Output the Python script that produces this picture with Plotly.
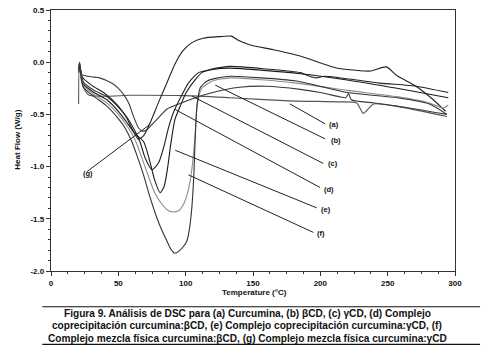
import plotly.graph_objects as go

# ---------------- data ----------------
a_T = [20.5, 21.0, 23, 28, 60, 100, 133, 177, 215, 227, 232, 239.5, 260, 294]
a_y = [-0.40, -0.03, -0.20, -0.315, -0.317, -0.32, -0.34, -0.37, -0.38, -0.39, -0.49, -0.40, -0.43, -0.52]

b_T = [20.5, 21.2, 23, 30, 40, 50, 56, 61, 65, 69, 74, 80, 86, 92, 98, 105, 113, 125, 134, 139, 148, 165,
       185, 212, 225, 237, 249, 257, 271, 283, 293]
b_y = [-0.06, -0.01, -0.14, -0.22, -0.30, -0.42, -0.53, -0.66, -0.74, -0.70, -0.57, -0.38, -0.20, -0.02, 0.11,
       0.19, 0.23, 0.245, 0.25, 0.21, 0.165, 0.12, 0.06, -0.055, -0.075, -0.085, -0.045, -0.13, -0.23, -0.35, -0.47]

c_T = [20.5, 21.2, 24, 32, 41.5, 50, 56, 62, 66, 70, 75, 80, 84, 87, 91, 95, 102, 109.5, 118, 133, 160, 185,
       193, 197, 203, 244, 271, 295]
c_y = [-0.07, -0.02, -0.19, -0.27, -0.33, -0.43, -0.52, -0.65, -0.76, -0.92, -1.03, -0.96, -0.80, -0.64, -0.48,
       -0.37, -0.20, -0.10, -0.07, -0.04, -0.065, -0.10, -0.14, -0.15, -0.135, -0.20, -0.23, -0.29]

d_T = [20.5, 21.2, 24, 32, 41.5, 50, 56, 62, 68.7, 73, 77, 81, 84, 86.5, 89, 92, 96, 100, 107, 112, 120, 133,
       185, 220, 257, 295]
d_y = [-0.08, -0.03, -0.21, -0.29, -0.36, -0.47, -0.57, -0.68, -0.76, -0.93, -1.13, -1.25, -1.19, -1.02, -0.78,
       -0.55, -0.42, -0.30, -0.17, -0.10, -0.07, -0.057, -0.11, -0.17, -0.25, -0.34]

e_T = [20.5, 21.2, 24, 32, 41.5, 50, 57, 63, 67, 72, 77, 83, 87, 91, 95, 98.4, 101, 103.3, 105, 107,
       108.5, 112, 120, 133, 182, 220, 257, 281, 291, 295]
e_y = [-0.09, -0.03, -0.22, -0.31, -0.39, -0.50, -0.62, -0.76, -0.90, -1.08, -1.25, -1.37, -1.42, -1.435, -1.42,
       -1.36, -1.27, -1.14, -0.98, -0.70, -0.42, -0.25, -0.18, -0.15, -0.20, -0.27, -0.33, -0.39, -0.44, -0.41]

f_T = [20.5, 21.2, 24, 32, 41.5, 50, 55, 60, 64, 68.7, 73, 78.6, 82, 86, 89, 92, 95, 98, 101, 103, 104.6, 106,
       107, 108.5, 111, 116, 122, 133, 182, 220, 257, 281, 294]
f_y = [-0.10, -0.04, -0.24, -0.33, -0.42, -0.54, -0.63, -0.76, -0.90, -1.08, -1.27, -1.49, -1.60, -1.71, -1.79,
       -1.83, -1.81, -1.77, -1.71, -1.58, -1.39, -1.10, -0.76, -0.40, -0.24, -0.18, -0.155, -0.135, -0.18, -0.29,
       -0.34, -0.40, -0.50]

g_T = [20.5, 21.2, 23, 30, 36, 45, 50, 54, 58, 61, 65, 68, 71, 74, 80, 86, 95, 103, 120, 140, 160, 185, 200,
       214, 219, 221, 223, 240, 257, 294]
g_y = [-0.05, 0.0, -0.12, -0.14, -0.15, -0.20, -0.25, -0.31, -0.40, -0.51, -0.63, -0.66, -0.65, -0.61, -0.53,
       -0.45, -0.40, -0.36, -0.29, -0.24, -0.23, -0.26, -0.29, -0.33, -0.34, -0.30, -0.36, -0.39, -0.42, -0.50]

series_names = ["(a)", "(b)", "(c)", "(d)", "(e)", "(f)", "(g)"]
series_T = [a_T, b_T, c_T, d_T, e_T, f_T, g_T]
series_y = [a_y, b_y, c_y, d_y, e_y, f_y, g_y]
series_color = ["#555555", "#222222", "#222222", "#1a1a1a", "#8c8c8c", "#333333", "#3a3a3a"]

# leader lines: point on curve -> label
label_text = ["(a)", "(b)", "(c)", "(d)", "(e)", "(f)", "(g)"]
leader_from_T = [177.5, 122, 104.6, 92.2, 92.2, 102, 73.7]
leader_from_y = [-0.40, -0.22, -0.324, -0.453, -0.843, -1.079, -0.593]
leader_to_T = [203.5, 203.5, 202.2, 199.8, 197.3, 194.8, 26.7]
leader_to_y = [-0.59, -0.734, -0.97, -1.20, -1.395, -1.63, -1.048]
label_T = [205, 206.5, 204, 201, 199, 196, 22]
label_y = [-0.60, -0.746, -0.973, -1.215, -1.41, -1.64, -1.062]

x_ticks = [0, 50, 100, 150, 200, 250, 300]
x_ticktext = ["0", "50", "100", "150", "200", "250", "300"]
y_ticks = [0.5, 0.0, -0.5, -1.0, -1.5, -2.0]
y_ticktext = ["0.5", "0.0", "-0.5", "-1.0", "-1.5", "-2.0"]

caption = [
    "Figura 9. Análisis de DSC para (a) Curcumina, (b) βCD, (c) γCD, (d) Complejo",
    "coprecipitación curcumina:βCD, (e) Complejo coprecipitación curcumina:γCD, (f)",
    "Complejo mezcla física curcumina:βCD, (g) Complejo mezcla física curcumina:γCD",
]

# ---------------- figure ----------------
FONT = "Liberation Sans, Arial, sans-serif"
fig = go.Figure()
for name, T, y, col in zip(series_names, series_T, series_y, series_color):
    fig.add_trace(go.Scatter(x=T, y=y, mode="lines", name=name,
                             line=dict(color=col, width=1.1, shape="spline", smoothing=0.6),
                             showlegend=False, hoverinfo="skip"))

for x0, y0, x1, y1 in zip(leader_from_T, leader_from_y, leader_to_T, leader_to_y):
    fig.add_shape(type="line", xref="x", yref="y", x0=x0, y0=y0, x1=x1, y1=y1,
                  line=dict(color="#222222", width=1))

for t, lx, ly in zip(label_text, label_T, label_y):
    fig.add_annotation(x=lx, y=ly, xref="x", yref="y", text=t, showarrow=False,
                       xanchor="left", yanchor="middle",
                       font=dict(family=FONT, size=7.5, color="#111", weight="bold"))

# axis titles
fig.add_annotation(x=0.503, y=-0.082, xref="paper", yref="paper", text="Temperature (°C)",
                   showarrow=False, xanchor="center", yanchor="middle",
                   font=dict(family=FONT, size=8, color="#111", weight="bold"))
fig.add_annotation(x=-0.083, y=0.505, xref="paper", yref="paper", text="Heat Flow (W/g)",
                   showarrow=False, textangle=-90, xanchor="center", yanchor="middle",
                   font=dict(family=FONT, size=8, color="#111", weight="bold"))

# caption and rules
cap_y = [-0.1636, -0.2089, -0.258]
for line, yy in zip(caption, cap_y):
    fig.add_annotation(x=0.4855, y=yy, xref="paper", yref="paper", text=line, showarrow=False,
                       xanchor="center", yanchor="middle",
                       font=dict(family=FONT, size=10.1, color="#111", weight="bold"))
for yy in [-0.137, -0.281]:
    fig.add_shape(type="line", xref="paper", yref="paper", x0=-0.0215, x1=1.062, y0=yy, y1=yy,
                  line=dict(color="#111", width=1.2))

axis_common = dict(showgrid=False, zeroline=False, showline=True, linecolor="#333333", linewidth=1.4,
                   mirror=True, ticks="outside", ticklen=4, tickwidth=1, tickcolor="#333333",
                   tickfont=dict(family=FONT, size=8, color="#111", weight="bold"))
fig.update_xaxes(range=[0, 300], tickvals=x_ticks, ticktext=x_ticktext,
                 minor=dict(dtick=12.5, tick0=0, ticks="outside", ticklen=2, tickcolor="#333333"),
                 **axis_common)
fig.update_yaxes(range=[-2.0, 0.5], tickvals=y_ticks, ticktext=y_ticktext,
                 minor=dict(dtick=0.1, tick0=0, ticks="outside", ticklen=2, tickcolor="#333333"),
                 **axis_common)

fig.update_layout(width=493, height=358, margin=dict(l=50.7, r=38, t=6, b=87.3),
                  paper_bgcolor="white", plot_bgcolor="white", showlegend=False)

fig.write_html("out.html", config={"displayModeBar": False},
               post_script="document.body.style.margin='0';")
